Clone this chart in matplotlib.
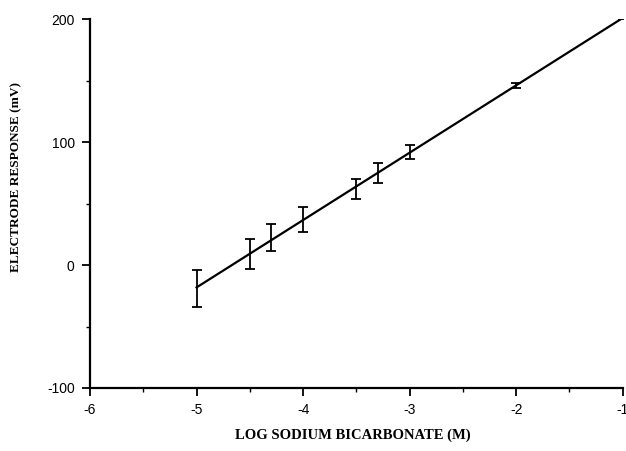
import numpy as np
import matplotlib
matplotlib.use("Agg")
import matplotlib.pyplot as plt
from matplotlib.ticker import MultipleLocator

# log [NaHCO3] (M) vs electrode response (mV), mean +/- sd
log_conc = [-5.0, -4.5, -4.3, -4.0, -3.5, -3.3, -3.0, -2.0, -1.0]
response = [-19, 9, 22, 37, 62, 75, 92, 146, 201]
err = [15, 12, 11, 10, 8, 8, 6, 2, 1]

plt.rcParams["axes.unicode_minus"] = False

fig = plt.figure(figsize=(6.26, 4.51), dpi=100)
ax = fig.add_axes([0.1438, 0.1397, 0.851, 0.818])

# least-squares line over the measured range
slope, icpt = np.polyfit(log_conc, response, 1)
xf = np.array([min(log_conc), max(log_conc)])
ax.plot(xf, slope * xf + icpt, color="black", lw=1.6, zorder=3)

ax.errorbar(log_conc, response, yerr=err, fmt="none", ecolor="black",
            elinewidth=1.3, capsize=3.5, capthick=1.3, zorder=4)

ax.set_xlim(-6, -1)
ax.set_ylim(-100, 200)
ax.xaxis.set_major_locator(MultipleLocator(1))
ax.xaxis.set_minor_locator(MultipleLocator(0.5))
ax.yaxis.set_major_locator(MultipleLocator(100))
ax.yaxis.set_minor_locator(MultipleLocator(50))

for s in ("top", "right"):
    ax.spines[s].set_visible(False)
for s in ("left", "bottom"):
    ax.spines[s].set_linewidth(1.6)

ax.tick_params(which="major", direction="out", length=6, width=1.3,
               labelsize=10, pad=5)
ax.tick_params(which="minor", direction="out", length=3, width=1.0)
for t in ax.get_xticklabels() + ax.get_yticklabels():
    t.set_family("Liberation Sans")

ax.set_xlabel("LOG SODIUM BICARBONATE (M)", family="Liberation Serif",
              fontweight="bold", fontsize=10.5, va="center")
ax.set_ylabel("ELECTRODE RESPONSE (mV)", family="Liberation Serif",
              fontweight="bold", fontsize=9.5, va="center")
ax.xaxis.set_label_coords(0.493, -0.127)
ax.yaxis.set_label_coords(-0.139, 0.572)

fig.savefig("out.png", dpi=100)
